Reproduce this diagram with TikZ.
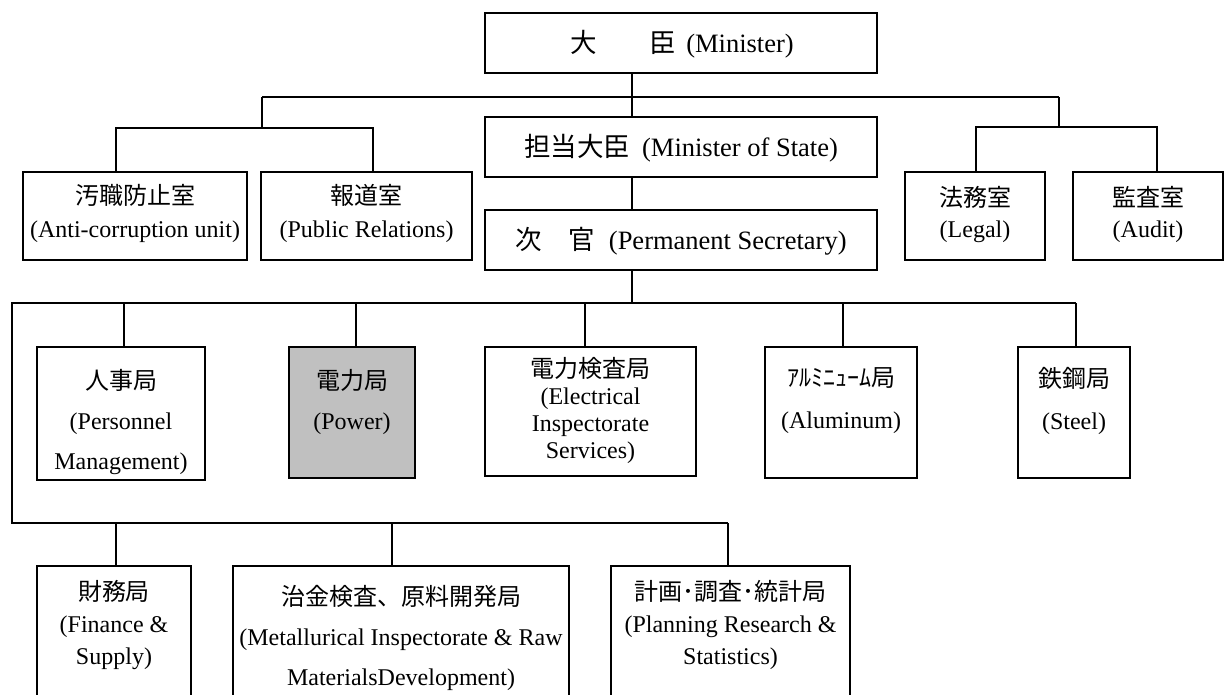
\documentclass[tikz,border=0pt]{standalone}
\usepackage{fontspec}
\setmainfont{Liberation Serif}
\newfontfamily\jp{Noto Sans CJK JP}
\newcommand\myfs[1]{\fontsize{24}{#1}\selectfont}
\newcommand\bigfs{\fontsize{26.5}{30}\selectfont}
\begin{document}
\begin{tikzpicture}[x=1pt,y=-1pt,
  box/.style={draw, line width=2pt, rectangle, inner sep=0pt, fill=white},
  txt/.style={align=center, inner sep=0pt},
  conn/.style={line width=1.6pt}]
\clip (0,0) rectangle (1227,695);
\fill[white] (0,0) rectangle (1227,695);
% boxes
\node[box, minimum width=392pt, minimum height=60pt] (min) at (681,43) {};
\node[box, minimum width=392pt, minimum height=60pt] (mos) at (681,147) {};
\node[box, minimum width=392pt, minimum height=60pt] (ps) at (681,240) {};
\node[box, minimum width=224pt, minimum height=88pt] (anti) at (135,216) {};
\node[box, minimum width=211pt, minimum height=88pt] (pr) at (366.5,216) {};
\node[box, minimum width=140pt, minimum height=88pt] (legal) at (975,216) {};
\node[box, minimum width=150pt, minimum height=88pt] (audit) at (1148,216) {};
\node[box, minimum width=168pt, minimum height=133pt] (pers) at (121,413.5) {};
\node[box, minimum width=126pt, minimum height=131pt, fill={rgb,255:red,192;green,192;blue,192}] (power) at (352,412.5) {};
\node[box, minimum width=211pt, minimum height=129pt] (elec) at (590.5,411.5) {};
\node[box, minimum width=152pt, minimum height=131pt] (alum) at (841,412.5) {};
\node[box, minimum width=112pt, minimum height=131pt] (steel) at (1074,412.5) {};
\node[box, minimum width=154pt, minimum height=160pt] (fin) at (114,646) {};
\node[box, minimum width=336pt, minimum height=160pt] (metal) at (401,646) {};
\node[box, minimum width=239pt, minimum height=160pt] (plan) at (730.5,646) {};
% texts
\node[txt, font=\bigfs] (min-t) at (682,44) {{\jp 大　　臣}\hspace{10pt}(Minister)};
\node[txt, font=\bigfs] (mos-t) at (681,148) {{\jp 担当大臣}\hspace{12pt}(Minister of State)};
\node[txt, font=\bigfs] (ps-t) at (681,241) {{\jp 次　官}\hspace{14pt}(Permanent Secretary)};
\node[txt, font=\myfs{33}] (anti-t) at (135,213.5) {{\jp 汚職防止室}\\(Anti-corruption unit)};
\node[txt, font=\myfs{33}] (pr-t) at (366.5,213.5) {{\jp 報道室}\\(Public Relations)};
\node[txt, font=\myfs{31}] (legal-t) at (975,214) {{\jp 法務室}\\(Legal)};
\node[txt, font=\myfs{31}] (audit-t) at (1148,214) {{\jp 監査室}\\(Audit)};
\node[txt, font=\myfs{40}] (pers-t) at (121,422) {{\jp 人事局}\\(Personnel\\Management)};
\node[txt, font=\myfs{40}] (power-t) at (352,402) {{\jp 電力局}\\(Power)};
\node[txt, font=\myfs{27}] (elec-t) at (590.5,410) {{\jp 電力検査局}\\(Electrical\\Inspectorate\\Services)};
\node[txt, font=\myfs{42}] (alum-t) at (841,401) {{\jp ｱﾙﾐﾆｭｰﾑ局}\\(Aluminum)};
\node[txt, font=\myfs{42}] (steel-t) at (1074,401) {{\jp 鉄鋼局}\\(Steel)};
\node[txt, font=\myfs{32}] (fin-t) at (114,625) {{\jp 財務局}\\(Finance \&\\Supply)};
\node[txt, font=\myfs{40}] (metal-t) at (401,638) {{\jp 治金検査、原料開発局}\\(Metallurical Inspectorate \& Raw\\MaterialsDevelopment)};
\node[txt, font=\myfs{32}] (plan-t) at (730.5,625) {{\jp 計画･調査･統計局}\\(Planning Research \&\\Statistics)};
% connectors
\coordinate (bL) at (262,97);
\coordinate (bR) at (1059,97);
\coordinate (sL) at (262,128);
\coordinate (sR) at (1059,127);
\coordinate (b3L) at (12,303);
\coordinate (b3R) at (1076,303);
\coordinate (b4L) at (12,523);
\coordinate (b4R) at (728,523);
\draw[conn] ([xshift=-49pt]min.south) -- ([xshift=-49pt]mos.north);
\draw[conn] (bL) -- (bR);
\draw[conn] (bL) -- (sL);
\draw[conn] ([xshift=-19pt]anti.north) |- (sL) -| ([xshift=6.5pt]pr.north);
\draw[conn] (bR) -- (sR);
\draw[conn] ([xshift=1pt]legal.north) |- (sR) -| ([xshift=9pt]audit.north);
\draw[conn] ([xshift=-49pt]mos.south) -- ([xshift=-49pt]ps.north);
\draw[conn] ([xshift=-49pt]ps.south) -- ([xshift=-49pt]ps.south |- b3L);
\draw[conn] (b3R) -- (b3L) -- (b4L) -- (b4R);
\draw[conn] ([xshift=3pt]pers.north) -- ([xshift=3pt]pers.north |- b3L);
\draw[conn] ([xshift=4pt]power.north) -- ([xshift=4pt]power.north |- b3L);
\draw[conn] ([xshift=-5.5pt]elec.north) -- ([xshift=-5.5pt]elec.north |- b3L);
\draw[conn] ([xshift=2pt]alum.north) -- ([xshift=2pt]alum.north |- b3L);
\draw[conn] ([xshift=2pt]steel.north) -- (b3R);
\draw[conn] ([xshift=2pt]fin.north) -- ([xshift=2pt]fin.north |- b4L);
\draw[conn] ([xshift=-9pt]metal.north) -- ([xshift=-9pt]metal.north |- b4L);
\draw[conn] ([xshift=-2.5pt]plan.north) -- (b4R);
\end{tikzpicture}
\end{document}
